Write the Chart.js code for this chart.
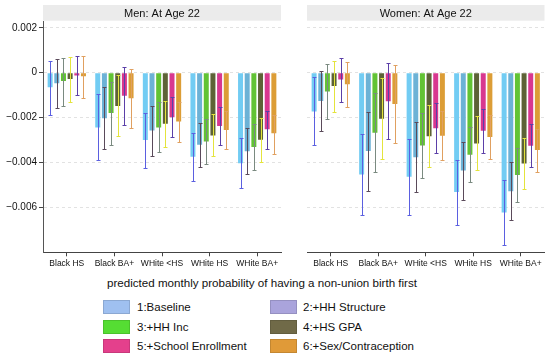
<!DOCTYPE html>
<html><head><meta charset="utf-8">
<script src="https://cdn.jsdelivr.net/npm/chart.js@4"></script>
<style>
body{margin:0;width:550px;height:357px;background:#fff;overflow:hidden;font-family:"Liberation Sans",Arial,sans-serif;position:relative}
#cA{position:absolute;left:0;top:0}
#cB{position:absolute;left:285px;top:0}
#xt{position:absolute;top:276px;left:0;width:524px;text-align:center;font-size:11.6px;line-height:13px;color:#111}
.lg{position:absolute;font-size:11.5px;line-height:14px;color:#111;white-space:nowrap}
.sw{position:absolute;width:27px;height:14px;box-sizing:border-box;border:1px solid rgba(0,0,0,0.12)}
</style></head><body>
<canvas id="cA" width="283" height="275"></canvas>
<canvas id="cB" width="265" height="275"></canvas>
<div id="xt"></div>
<div id="legend"></div>
<script>
// ---------- data ----------
const categories = ['Black HS', 'Black BA+', 'WHite <HS', 'WHite HS', 'WHite BA+'];
const seriesNames = ['1:Baseline', '2:+HH Structure', '3:+HH Inc', '4:+HS GPA', '5:+School Enrollment', '6:+Sex/Contraception'];
const panelTitles = ['Men: At Age 22', 'Women: At Age 22'];
const xAxisTitle = 'predicted monthly probability of having a non-union birth first';
const yTicks = [0.002, 0, -0.002, -0.004, -0.006];
const yTickLabels = ['0.002', '0', '\u22120.002', '\u22120.004', '\u22120.006'];

// Men: point estimates and confidence bounds (rows = series 1..6, cols = categories)
const menMean = [
  [-0.00065, -0.00244, -0.00300, -0.00375, -0.00403],
  [-0.00047, -0.00203, -0.00257, -0.00321, -0.00350],
  [-0.00037, -0.00180, -0.00244, -0.00306, -0.00331],
  [-0.00028, -0.00148, -0.00228, -0.00280, -0.00299],
  [-0.00013, -0.00103, -0.00198, -0.00237, -0.00252],
  [-0.00016, -0.00114, -0.00218, -0.00255, -0.00270]
];
const menLo = [
  [-0.00190, -0.00390, -0.00425, -0.00484, -0.00514],
  [-0.00158, -0.00339, -0.00369, -0.00420, -0.00452],
  [-0.00148, -0.00321, -0.00354, -0.00406, -0.00432],
  [-0.00129, -0.00284, -0.00332, -0.00373, -0.00396],
  [-0.00100, -0.00234, -0.00287, -0.00321, -0.00340],
  [-0.00111, -0.00247, -0.00309, -0.00340, -0.00361]
];
const menHi = [
  [0.00053, -0.00096, -0.00180, -0.00267, -0.00292],
  [0.00061, -0.00065, -0.00147, -0.00222, -0.00247],
  [0.00067, -0.00043, -0.00132, -0.00207, -0.00229],
  [0.00071, -0.00012, -0.00126, -0.00184, -0.00203],
  [0.00074, 0.00024, -0.00109, -0.00154, -0.00169],
  [0.00074, 0.00016, -0.00129, -0.00169, -0.00188]
];
// Women
const womenMean = [
  [-0.00173, -0.00454, -0.00464, -0.00532, -0.00623],
  [-0.00126, -0.00349, -0.00377, -0.00436, -0.00528],
  [-0.00084, -0.00268, -0.00324, -0.00366, -0.00456],
  [-0.00059, -0.00205, -0.00283, -0.00315, -0.00404],
  [-0.00030, -0.00127, -0.00247, -0.00259, -0.00326],
  [-0.00052, -0.00140, -0.00281, -0.00287, -0.00344]
];
const womenLo = [
  [-0.00324, -0.00633, -0.00636, -0.00677, -0.00766],
  [-0.00258, -0.00526, -0.00533, -0.00566, -0.00655],
  [-0.00207, -0.00444, -0.00467, -0.00489, -0.00578],
  [-0.00173, -0.00385, -0.00421, -0.00435, -0.00519],
  [-0.00129, -0.00296, -0.00359, -0.00356, -0.00422],
  [-0.00154, -0.00314, -0.00391, -0.00385, -0.00444]
];
const womenHi = [
  [-0.00021, -0.00273, -0.00295, -0.00388, -0.00480],
  [0.00007, -0.00173, -0.00218, -0.00307, -0.00399],
  [0.00039, -0.00089, -0.00181, -0.00243, -0.00336],
  [0.00053, -0.00025, -0.00144, -0.00195, -0.00289],
  [0.00064, 0.00041, -0.00133, -0.00163, -0.00230],
  [0.00046, 0.00034, -0.00170, -0.00188, -0.00252]
];

// ---------- styles ----------
const barColors = ['#72ccf3', '#6cb2d6', '#62c334', '#5d6236', '#d8378f', '#dc9d36'];
const legendColors = ['#9fc0f0', '#aaa4dc', '#55dd33', '#706a48', '#e4408c', '#e09a38'];
const whiskerColors = ['#5b5fe0', '#5a4a5a', '#7a8a80', '#e4e43c', '#5b3fa8', '#e0a060'];
const FONT = '"Liberation Sans", Arial, sans-serif';
Chart.defaults.font.family = FONT;
Chart.defaults.color = '#111';

const headerPlugin = {
  id: 'header',
  beforeDraw(chart, args, opts) {
    const {ctx, chartArea: a} = chart;
    ctx.save();
    ctx.fillStyle = '#ebebeb';
    ctx.fillRect(a.left, 5, a.right - a.left, 15.7);
    ctx.fillStyle = '#111';
    ctx.font = '11px ' + FONT;
    ctx.textAlign = 'center';
    ctx.textBaseline = 'middle';
    ctx.fillText(opts.text, (a.left + a.right) / 2, 13.5);
    ctx.restore();
  }
};

const whiskerPlugin = {
  id: 'whiskers',
  afterDatasetsDraw(chart) {
    const ctx = chart.ctx, ys = chart.scales.y;
    chart.data.datasets.forEach((ds, i) => {
      const meta = chart.getDatasetMeta(i);
      ctx.save();
      ctx.strokeStyle = ds.whiskerColor;
      ctx.lineWidth = 1;
      meta.data.forEach((el, j) => {
        const x = Math.round(el.x) + 0.5;
        const y1 = Math.round(ys.getPixelForValue(ds.lo[j])) + 0.5;
        const y2 = Math.round(ys.getPixelForValue(ds.hi[j])) + 0.5;
        ctx.beginPath();
        ctx.moveTo(x, y1); ctx.lineTo(x, y2);
        ctx.moveTo(x - 2, y1); ctx.lineTo(x + 2, y1);
        ctx.moveTo(x - 2, y2); ctx.lineTo(x + 2, y2);
        ctx.stroke();
      });
      ctx.restore();
    });
  }
};

function makeDatasets(mean, lo, hi) {
  return seriesNames.map((name, i) => ({
    label: name,
    data: mean[i],
    lo: lo[i],
    hi: hi[i],
    backgroundColor: barColors[i],
    whiskerColor: whiskerColors[i],
    borderWidth: 0,
    categoryPercentage: 0.84,
    barPercentage: 0.75
  }));
}

function makeChart(id, title, mean, lo, hi, showY, padding) {
  return new Chart(document.getElementById(id), {
    type: 'bar',
    data: { labels: categories, datasets: makeDatasets(mean, lo, hi) },
    plugins: [headerPlugin, whiskerPlugin],
    options: {
      responsive: false,
      animation: false,
      layout: { padding: padding },
      plugins: {
        legend: { display: false },
        tooltip: { enabled: false },
        header: { text: title }
      },
      scales: {
        x: {
          offset: true,
          grid: { offset: false, drawOnChartArea: false, drawTicks: true, tickLength: 4, tickColor: '#444' },
          border: { display: true, color: '#444', width: 1 },
          ticks: { font: { size: 8.5 }, color: '#111', maxRotation: 0, autoSkip: false, padding: 2 },
          afterFit(s) { s.height = 22.7; }
        },
        y: {
          min: -0.008,
          max: 0.00227,
          afterBuildTicks(s) { s.ticks = yTicks.map(v => ({ value: v })); },
          grid: { color: '#e2e2e2', lineWidth: 1, drawTicks: showY, tickLength: 4, tickColor: '#444', tickBorderDash: [] },
          border: { display: showY, color: '#555', width: 1, dash: [3, 3] },
          ticks: {
            display: showY,
            font: { size: 10 },
            color: '#111',
            padding: 2,
            callback: (v, idx) => yTickLabels[idx]
          },
          afterFit(s) { s.width = showY ? 43 : 0; }
        }
      }
    }
  });
}

makeChart('cA', panelTitles[0], menMean, menLo, menHi, true, { top: 21.7, right: 2, bottom: 0, left: 0 });
makeChart('cB', panelTitles[1], womenMean, womenLo, womenHi, false, { top: 21.7, right: 5.5, bottom: 0, left: 22 });

// ---------- axis title + legend (HTML text) ----------
document.getElementById('xt').textContent = xAxisTitle;
const lg = document.getElementById('legend');
const rowY = [306.7, 326.7, 345.5];
const colSw = [103, 270];
const colTx = [137, 303];
seriesNames.forEach((name, i) => {
  const col = i % 2, row = Math.floor(i / 2);
  const sw = document.createElement('div');
  sw.className = 'sw';
  sw.style.left = colSw[col] + 'px';
  sw.style.top = (rowY[row] - 7) + 'px';
  sw.style.background = legendColors[i];
  lg.appendChild(sw);
  const t = document.createElement('div');
  t.className = 'lg';
  t.style.left = colTx[col] + 'px';
  t.style.top = (rowY[row] - 7) + 'px';
  t.textContent = name;
  lg.appendChild(t);
});
</script>
</body></html>
